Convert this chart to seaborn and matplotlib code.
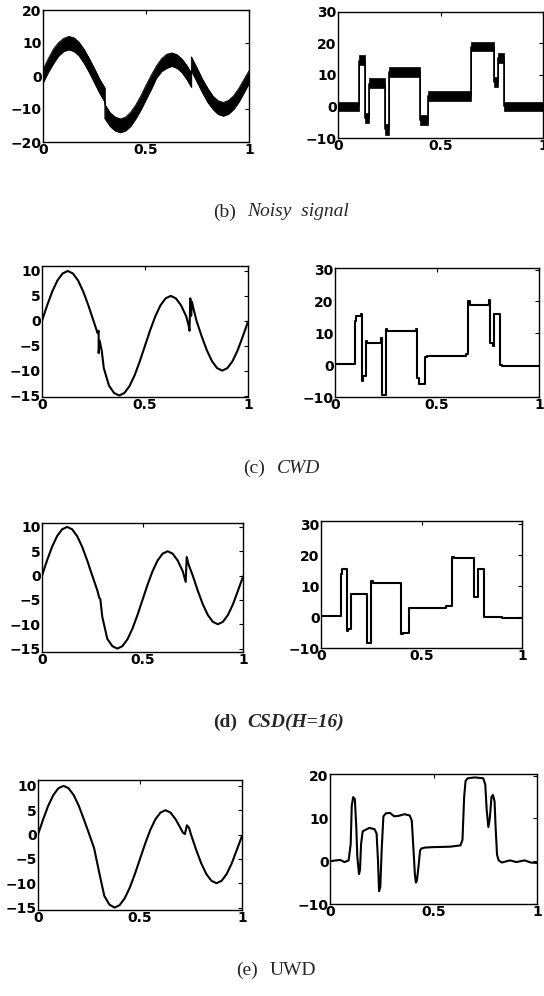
import numpy as np
import pandas as pd
import matplotlib
matplotlib.use("Agg")
import matplotlib.pyplot as plt
import seaborn as sns

# ---------------- data ----------------
# (b) noisy HeaviSine: envelope of the noisy band
noisy_hs_x = [0, .025, .05, .075, .1, .125, .15, .175, .2, .225, .25, .275, .3, .3,
              .325, .35, .375, .4, .425, .45, .475, .5, .525, .55, .575, .6, .625, .65,
              .675, .7, .72, .72, .75, .775, .8, .825, .85, .875, .9, .925, .95, .975, 1.0]
noisy_hs_upper = [2.0, 5.2, 8.1, 10.1, 11.4, 12.0, 11.6, 10.2, 8.0, 5.2, 2.2, -1.0, -3.6, -8.6,
                  -11.1, -12.4, -13.0, -12.5, -11.0, -8.8, -6.0, -2.8, 0.2, 3.0, 5.2, 6.6, 7.0, 6.5,
                  5.1, 3.0, 0.8, 5.8, 2.1, -1.1, -3.8, -6.1, -7.5, -8.0, -7.4, -6.0, -3.8, -1.1, 1.6]
noisy_hs_lower = [-2.0, 1.1, 3.8, 6.1, 7.5, 8.0, 7.5, 6.1, 3.8, 1.0, -2.1, -5.2, -7.9, -12.9,
                  -15.2, -16.6, -17.1, -16.6, -15.2, -12.9, -10.2, -7.1, -4.0, -0.6, 1.4, 2.4, 3.0, 2.4,
                  1.0, -1.2, -3.4, 1.6, -2.1, -5.2, -8.0, -10.1, -11.6, -12.1, -11.5, -10.1, -7.9, -5.1, -2.2]

# (b) noisy Blocks: step edges, centre level and band
blocks_x = [0, 0.10, 0.13, 0.15, 0.23, 0.25, 0.40, 0.44, 0.65, 0.76, 0.78, 0.81, 1.0]
blocks_level = [0, 14.6, -3.7, 7.3, -7.3, 11.0, -4.4, 3.3, 19.0, 7.7, 15.3, 0, 0]
noisy_bl_upper = [1.5, 16.2, -2.1, 8.9, -5.7, 12.5, -2.8, 4.9, 20.6, 9.3, 16.9, 1.5, 1.5]
noisy_bl_lower = [-1.5, 13.1, -5.3, 5.8, -8.9, 9.5, -6.0, 1.8, 17.5, 6.1, 13.7, -1.5, -1.5]

# (c) CWD
cwd_hs_x = [0, .025, .05, .075, .1, .125, .15, .175, .2, .225, .25, .27, .275, .275, .28, .29, .3,
            .325, .35, .375, .4, .425, .45, .475, .5, .525, .55, .575, .6, .625, .65, .675, .7,
            .712, .716, .72, .724, .728, .735, .75, .775, .8, .825, .85, .875, .9, .925, .95, .975, 1.0]
cwd_hs_y = [0, 3.1, 5.9, 8.1, 9.5, 10, 9.5, 8.1, 5.9, 3.1, 0, -2.5, -2.0, -6.5, -4.0, -6.0, -9.5,
            -13.0, -14.5, -15, -14.5, -13.1, -10.9, -8.1, -5, -1.9, 0.9, 3.1, 4.5, 5, 4.5, 3.1, 0.9,
            -1.0, -2.0, 4.5, 1.0, 3.8, 2.5, 0, -3.1, -5.9, -8.1, -9.5, -10, -9.5, -8.1, -5.9, -3.1, -0.2]
cwd_bl_x = [0, 0.1, 0.105, 0.125, 0.13, 0.135, 0.15, 0.155, 0.225, 0.23, 0.25, 0.255, 0.395, 0.40,
            0.41, 0.44, 0.45, 0.64, 0.65, 0.66, 0.755, 0.76, 0.775, 0.78, 0.81, 0.82, 1.0]
cwd_bl_y = [0.3, 14, 15.5, 16, -5, -3.5, 7.5, 6.8, 8.5, -9.5, 11.5, 10.8, 11.5, -4, -6, 2.5, 3, 3.5,
            20, 19, 20.5, 7, 6, 16, 0, -0.2, -0.2]

# (d) CSD(H=16)
csd_hs_x = [0, .025, .05, .075, .1, .125, .15, .175, .2, .225, .25, .275, .285, .29, .3, .325, .35,
            .375, .4, .425, .45, .475, .5, .525, .55, .575, .6, .625, .65, .675, .7, .715, .72, .73,
            .75, .775, .8, .825, .85, .875, .9, .925, .95, .975, 1.0]
csd_hs_y = [0, 3.1, 5.9, 8.1, 9.5, 10, 9.5, 8.1, 5.9, 3.1, 0, -3.0, -4.6, -4.8, -8.5, -13.0, -14.5,
            -15, -14.5, -13.1, -10.9, -8.1, -5, -1.9, 0.9, 3.1, 4.5, 5, 4.5, 3.1, 0.9, -1.3, 3.8, 2.2,
            0, -3.1, -5.9, -8.1, -9.5, -10, -9.5, -8.1, -5.9, -3.1, -0.2]
csd_bl_x = [0, 0.1, 0.105, 0.13, 0.135, 0.15, 0.23, 0.25, 0.26, 0.40, 0.41, 0.44, 0.62, 0.65, 0.66,
            0.76, 0.78, 0.81, 0.9, 1.0]
csd_bl_y = [0.2, 14, 15.5, -4.5, -4.0, 7.5, -8.5, 11.5, 11.0, -5.5, -5.0, 3.0, 3.5, 19.5, 19.0,
            6.5, 15.5, 0, -0.3, -0.3]

# (e) UWD
uwd_hs_x = [0, .025, .05, .075, .1, .125, .15, .175, .2, .225, .25, .275, .3, .325, .35, .375, .4,
            .425, .45, .475, .5, .525, .55, .575, .6, .625, .65, .675, .7, .71, .72, .73, .74, .75,
            .775, .8, .825, .85, .875, .9, .925, .95, .975, 1.0]
uwd_hs_y = [0, 3.1, 5.9, 8.1, 9.5, 10, 9.5, 8.1, 5.9, 3.1, 0.2, -2.8, -7.8, -12.6, -14.4, -15, -14.5,
            -13.1, -10.9, -8.1, -5, -1.9, 0.9, 3.1, 4.5, 5, 4.5, 3.1, 1.2, 0.4, 0.1, 1.9, 1.4, 0,
            -3.1, -5.9, -8.1, -9.5, -10, -9.5, -8.1, -5.9, -3.1, -0.3]
uwd_bl_x = [0, .03, .05, .07, .09, .1, .105, .112, .12, .127, .132, .14, .145, .15, .158, .19, .215,
            .225, .232, .237, .243, .25, .258, .27, .29, .31, .33, .36, .385, .395, .403, .41, .415,
            .42, .428, .435, .442, .46, .5, .58, .63, .64, .648, .655, .665, .7, .74, .75, .757, .765,
            .772, .78, .787, .795, .8, .807, .815, .83, .87, .9, .94, .97, 1.0]
uwd_bl_y = [0, 0.2, 0.3, -0.2, 0.2, 4, 13, 15, 14.5, 8, 1, -3, -2, 4, 7, 7.8, 7.5, 6.5, 0, -7, -6, 3,
            10.5, 11.2, 11.3, 10.5, 10.6, 11, 10.7, 9.5, 3, -3, -5, -4.5, -1, 2.5, 3, 3.2, 3.3, 3.4,
            3.7, 5, 15, 18.8, 19.4, 19.6, 19.4, 18, 12, 8, 10, 15, 15.5, 14, 8, 1.5, 0.2, -0.3, 0.2,
            -0.2, 0.2, -0.3, -0.4]

x_ticks = [0, 0.5, 1]
x_ticklabels = ["0", "0.5", "1"]
captions = [("(b)", "Noisy  signal", "italic", "normal"),
            ("(c)", "CWD", "italic", "normal"),
            ("(d)", "CSD(H=16)", "italic", "bold"),
            ("(e)", "UWD", "normal", "normal")]

# ---------------- styling ----------------
sns.set_theme(style="white")
plt.rcParams.update({
    "font.family": ["DejaVu Sans"],
    "xtick.direction": "in", "ytick.direction": "in",
    "xtick.top": True, "ytick.right": True,
    "xtick.major.size": 3, "ytick.major.size": 3,
    "xtick.major.width": 0.8, "ytick.major.width": 0.8,
    "xtick.color": "black", "ytick.color": "black",
    "axes.edgecolor": "black", "axes.linewidth": 1.0,
})

W, H = 544, 996
fig = plt.figure(figsize=(W / 100, H / 100), dpi=100)
fig.patch.set_facecolor("white")

def make_ax(l, t, r, b):
    return fig.add_axes([l / W, 1 - b / H, (r - l) / W, (b - t) / H])

LW = 1.5
TICKFS = 10

def line(ax, x, y, lw=LW, **kw):
    sns.lineplot(x=x, y=y, ax=ax, color="black", lw=lw, sort=False, estimator=None, **kw)

def style(ax, ylim, yticks):
    ax.set_xlim(0, 1)
    ax.set_ylim(*ylim)
    ax.set_xticks(x_ticks)
    ax.set_xticklabels(x_ticklabels)
    ax.set_yticks(yticks)
    ax.set_yticklabels([str(v).replace("-", "\u2212") for v in yticks])
    ax.tick_params(axis="both", labelsize=TICKFS, pad=1.0)
    for lab in ax.get_xticklabels() + ax.get_yticklabels():
        lab.set_fontweight("bold")
    ax.set_xlabel("")
    ax.set_ylabel("")
    for s in ax.spines.values():
        s.set_visible(True)
        s.set_color("black")

# (b) left: noisy HeaviSine
ax = make_ax(43, 10, 249, 142)
ax.fill_between(noisy_hs_x, noisy_hs_lower, noisy_hs_upper, color="black", lw=0.5)
line(ax, noisy_hs_x, noisy_hs_upper, lw=0.6)
line(ax, noisy_hs_x, noisy_hs_lower, lw=0.6)
style(ax, (-20, 20), [-20, -10, 0, 10, 20])

# (b) right: noisy Blocks
ax = make_ax(338, 12, 543, 138)
ax.fill_between(blocks_x, noisy_bl_lower, noisy_bl_upper, step="post", color="black", lw=0.5)
line(ax, blocks_x, blocks_level, lw=1.2, drawstyle="steps-post")
style(ax, (-10, 30), [-10, 0, 10, 20, 30])

# (c)
ax = make_ax(42, 266, 248, 397)
line(ax, cwd_hs_x, cwd_hs_y)
style(ax, (-15.3, 11), [-15, -10, -5, 0, 5, 10])
ax = make_ax(335, 268, 539, 397)
line(ax, cwd_bl_x, cwd_bl_y, drawstyle="steps-post")
style(ax, (-10, 30.5), [-10, 0, 10, 20, 30])

# (d)
ax = make_ax(42, 523, 243, 652)
line(ax, csd_hs_x, csd_hs_y)
style(ax, (-15.7, 10.8), [-15, -10, -5, 0, 5, 10])
ax = make_ax(321, 521, 522, 648)
line(ax, csd_bl_x, csd_bl_y, drawstyle="steps-post")
style(ax, (-10, 31), [-10, 0, 10, 20, 30])

# (e)
ax = make_ax(38, 780, 242, 910)
line(ax, uwd_hs_x, uwd_hs_y)
style(ax, (-15.5, 11.2), [-15, -10, -5, 0, 5, 10])
ax = make_ax(330, 774, 537, 904)
line(ax, uwd_bl_x, uwd_bl_y)
style(ax, (-10, 20.4), [-10, 0, 10, 20])

# captions
cap_y = [212, 468, 722, 970]
cap_x = [213, 243, 213, 236]
CAPFS = 14
for (tag, rest, st, wt), yy, xx in zip(captions, cap_y, cap_x):
    fig.text(xx / W, 1 - yy / H, tag, ha="left", va="center", fontsize=CAPFS,
             family=["Liberation Serif", "DejaVu Serif"], weight=wt)
    fig.text((xx + 34) / W, 1 - yy / H, rest, ha="left", va="center", fontsize=CAPFS,
             family=["Liberation Serif", "DejaVu Serif"], style=st, weight=wt)

fig.savefig("out.png", dpi=100, facecolor="white")
